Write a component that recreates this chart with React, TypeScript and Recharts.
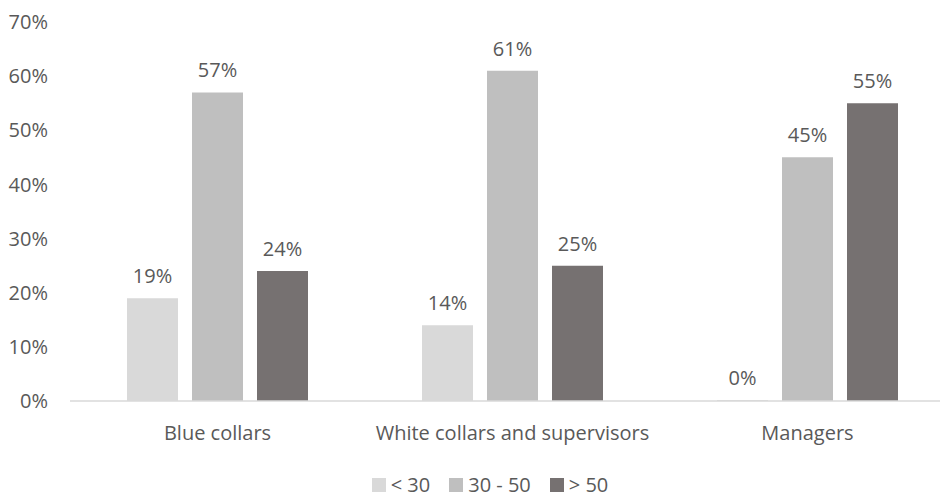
import { BarChart, Bar, XAxis, YAxis, LabelList, Legend } from 'recharts';

// Age distribution per job category, in percent
const categories = ['Blue collars', 'White collars and supervisors', 'Managers'];
const under30 = [19, 14, 0];
const from30to50 = [57, 61, 45];
const over50 = [24, 25, 55];

const seriesNames = ['< 30', '30 - 50', '> 50'];
const seriesColors = ['#d9d9d9', '#bfbfbf', '#767171'];
const yTicks = [0, 10, 20, 30, 40, 50, 60, 70];

const FONT = '"Open Sans", "Noto Sans", sans-serif';
const TEXT = '#595959';
const FS = 20;

const data = categories.map((name, i) => ({
  name,
  s0: under30[i],
  s1: from30to50[i],
  s2: over50[i],
}));

function LegendContent() {
  return (
    <div
      style={{
        display: 'flex',
        justifyContent: 'center',
        alignItems: 'center',
        height: 20,
        lineHeight: '20px',
        fontFamily: FONT,
        fontSize: FS,
        color: TEXT,
      }}
    >
      {seriesNames.map((n, i) => (
        <div key={n} style={{ display: 'flex', alignItems: 'center', marginRight: i < 2 ? 19 : 0 }}>
          <span style={{ width: 14, height: 14, background: seriesColors[i], marginRight: 5 }} />
          <span>{n}</span>
        </div>
      ))}
    </div>
  );
}

export default function App() {
  return (
    <div
      style={{
        position: 'absolute',
        left: 0,
        top: 0,
        width: 940,
        height: 497,
        overflow: 'hidden',
        background: '#fff',
      }}
    >
      <BarChart
        width={980}
        height={497}
        data={data}
        margin={{ top: 22, right: 25, bottom: 26, left: 0 }}
        barSize={51}
        barGap={14}
      >
        <XAxis
          dataKey="name"
          axisLine={{ stroke: '#d9d9d9', strokeWidth: 1.5 }}
          tickLine={false}
          tickSize={0}
          tickMargin={25}
          height={50}
          interval={0}
          tick={{ fill: TEXT, fontSize: FS, fontFamily: FONT }}
        />
        <YAxis
          width={70}
          domain={[0, 70]}
          ticks={yTicks}
          axisLine={false}
          tickLine={false}
          tickSize={0}
          tickMargin={22}
          tickFormatter={(v) => `${v}%`}
          tick={{ fill: TEXT, fontSize: FS, fontFamily: FONT }}
        />
        <Legend
          verticalAlign="bottom"
          content={<LegendContent />}
          wrapperStyle={{ top: 475, bottom: 'auto', left: 0, width: 980, height: 20 }}
        />
        {['s0', 's1', 's2'].map((key, i) => (
          <Bar
            key={key}
            dataKey={key}
            name={seriesNames[i]}
            fill={seriesColors[i]}
            minPointSize={1}
            isAnimationActive={false}
          >
            <LabelList
              dataKey={key}
              position="top"
              offset={15}
              formatter={(v: number) => `${v}%`}
              style={{ fill: TEXT, fontSize: FS, fontFamily: FONT }}
            />
          </Bar>
        ))}
      </BarChart>
    </div>
  );
}
